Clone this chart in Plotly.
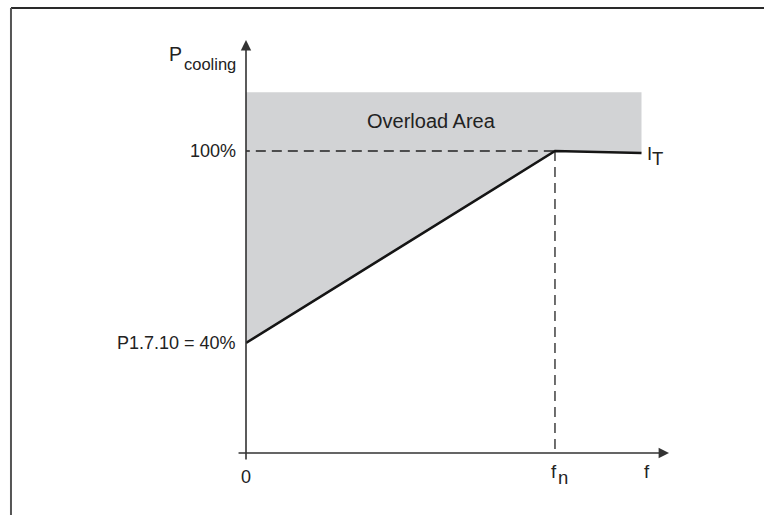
import plotly.graph_objects as go

# Cooling power curve: relative frequency (f / fn) vs. cooling power (%)
freq = [0.0, 1.0, 1.28]
p_cooling = [40, 100, 99.4]
overload_top = 118.4
knee_f = 1.0
knee_p = 100
y_labels = ["100%", "P1.7.10 = 40%"]
y_label_vals = [100, 40]

X_RANGE = [0.0, 1.369]
Y_RANGE = [5.625, 134.69]

TEXT = "#222222"
FONT = "Liberation Sans, Arial, Helvetica, sans-serif"

fig = go.Figure()

# Shaded overload area: above the curve, below the top limit
poly_x = [freq[0]] + [freq[0], freq[-1], freq[-1]] + freq[::-1][1:]
poly_y = [p_cooling[0]] + [overload_top, overload_top, p_cooling[-1]] + p_cooling[::-1][1:]
fig.add_trace(go.Scatter(
    x=poly_x, y=poly_y, fill="toself", mode="lines",
    fillcolor="#d2d3d5", line=dict(width=0), hoverinfo="skip", showlegend=False,
))

# Dashed guide lines at 100% and at fn
fig.add_trace(go.Scatter(
    x=[-0.02, knee_f], y=[knee_p, knee_p], mode="lines",
    line=dict(color="#222222", width=1.3, dash="10px,6px"),
    hoverinfo="skip", showlegend=False, cliponaxis=False,
))
fig.add_trace(go.Scatter(
    x=[knee_f, knee_f], y=[knee_p, 3.1], mode="lines",
    line=dict(color="#222222", width=1.3, dash="10px,6px"),
    hoverinfo="skip", showlegend=False, cliponaxis=False,
))

# Cooling power curve I_T
fig.add_trace(go.Scatter(
    x=freq, y=p_cooling, mode="lines",
    line=dict(color="#151515", width=2.6),
    hoverinfo="skip", showlegend=False,
))

annotations = []

# Axes drawn as arrows
annotations.append(dict(
    x=0, y=Y_RANGE[1], ax=0, ay=3.1, xref="x", yref="y", axref="x", ayref="y",
    text="", showarrow=True, arrowhead=2, arrowsize=1.3, arrowwidth=1.6,
    arrowcolor="#333333",
))
annotations.append(dict(
    x=X_RANGE[1], y=Y_RANGE[0], ax=-0.029, ay=Y_RANGE[0], xref="x", yref="y",
    axref="x", ayref="y",
    text="", showarrow=True, arrowhead=2, arrowsize=1.3, arrowwidth=1.6,
    arrowcolor="#333333",
))


def label(text, x, y, size, xanchor="left", xshift=0, yshift=0):
    return dict(
        x=x, y=y, xref="x", yref="y", text=text, showarrow=False,
        xanchor=xanchor, yanchor="middle", xshift=xshift, yshift=yshift,
        font=dict(family=FONT, size=size, color=TEXT),
    )


# Y labels
for lab, val in zip(y_labels, y_label_vals):
    annotations.append(label(lab, 0, val, 18, xanchor="right", xshift=-8))

# Axis title P_cooling (subscript drawn a little smaller and lower)
annotations.append(label("P", 0, 130.2, 19.5, xanchor="right", xshift=-62))
annotations.append(label("cooling", 0, 127.3, 16.5, xanchor="left", xshift=-64))

# X labels, placed below the horizontal axis
annotations.append(label("0", 0, Y_RANGE[0], 18, xanchor="center", yshift=-24))
annotations.append(label("f", 0.982, Y_RANGE[0], 18.5, xanchor="left", yshift=-18))
annotations.append(label("n", 1.002, Y_RANGE[0], 18.5, xanchor="left", yshift=-24))
annotations.append(label("f", 1.298, Y_RANGE[0], 18.5, xanchor="center", yshift=-18))

# Curve label I_T
annotations.append(label("I", 1.291, 99.2, 18.5, xanchor="left"))
annotations.append(label("T", 1.308, 97.6, 18.5, xanchor="left"))

# Area label
annotations.append(label("Overload Area", 0.600, 109.3, 20, xanchor="center"))

# Frame lines along the top and left edges
shapes = [
    dict(type="line", xref="paper", yref="paper", x0=-0.5556, x1=1.23,
         y0=1.0775, y1=1.0775, line=dict(color="#2a2a2a", width=2)),
    dict(type="line", xref="paper", yref="paper", x0=-0.5556, x1=-0.5556,
         y0=1.0775, y1=-0.16, line=dict(color="#555555", width=2)),
]

fig.update_layout(
    width=764, height=515,
    margin=dict(l=246, r=95, t=40, b=62),
    paper_bgcolor="white", plot_bgcolor="white",
    xaxis=dict(range=X_RANGE, visible=False, fixedrange=True),
    yaxis=dict(range=Y_RANGE, visible=False, fixedrange=True),
    annotations=annotations, shapes=shapes, showlegend=False,
)

fig.write_html("out.html", config={"displayModeBar": False})
